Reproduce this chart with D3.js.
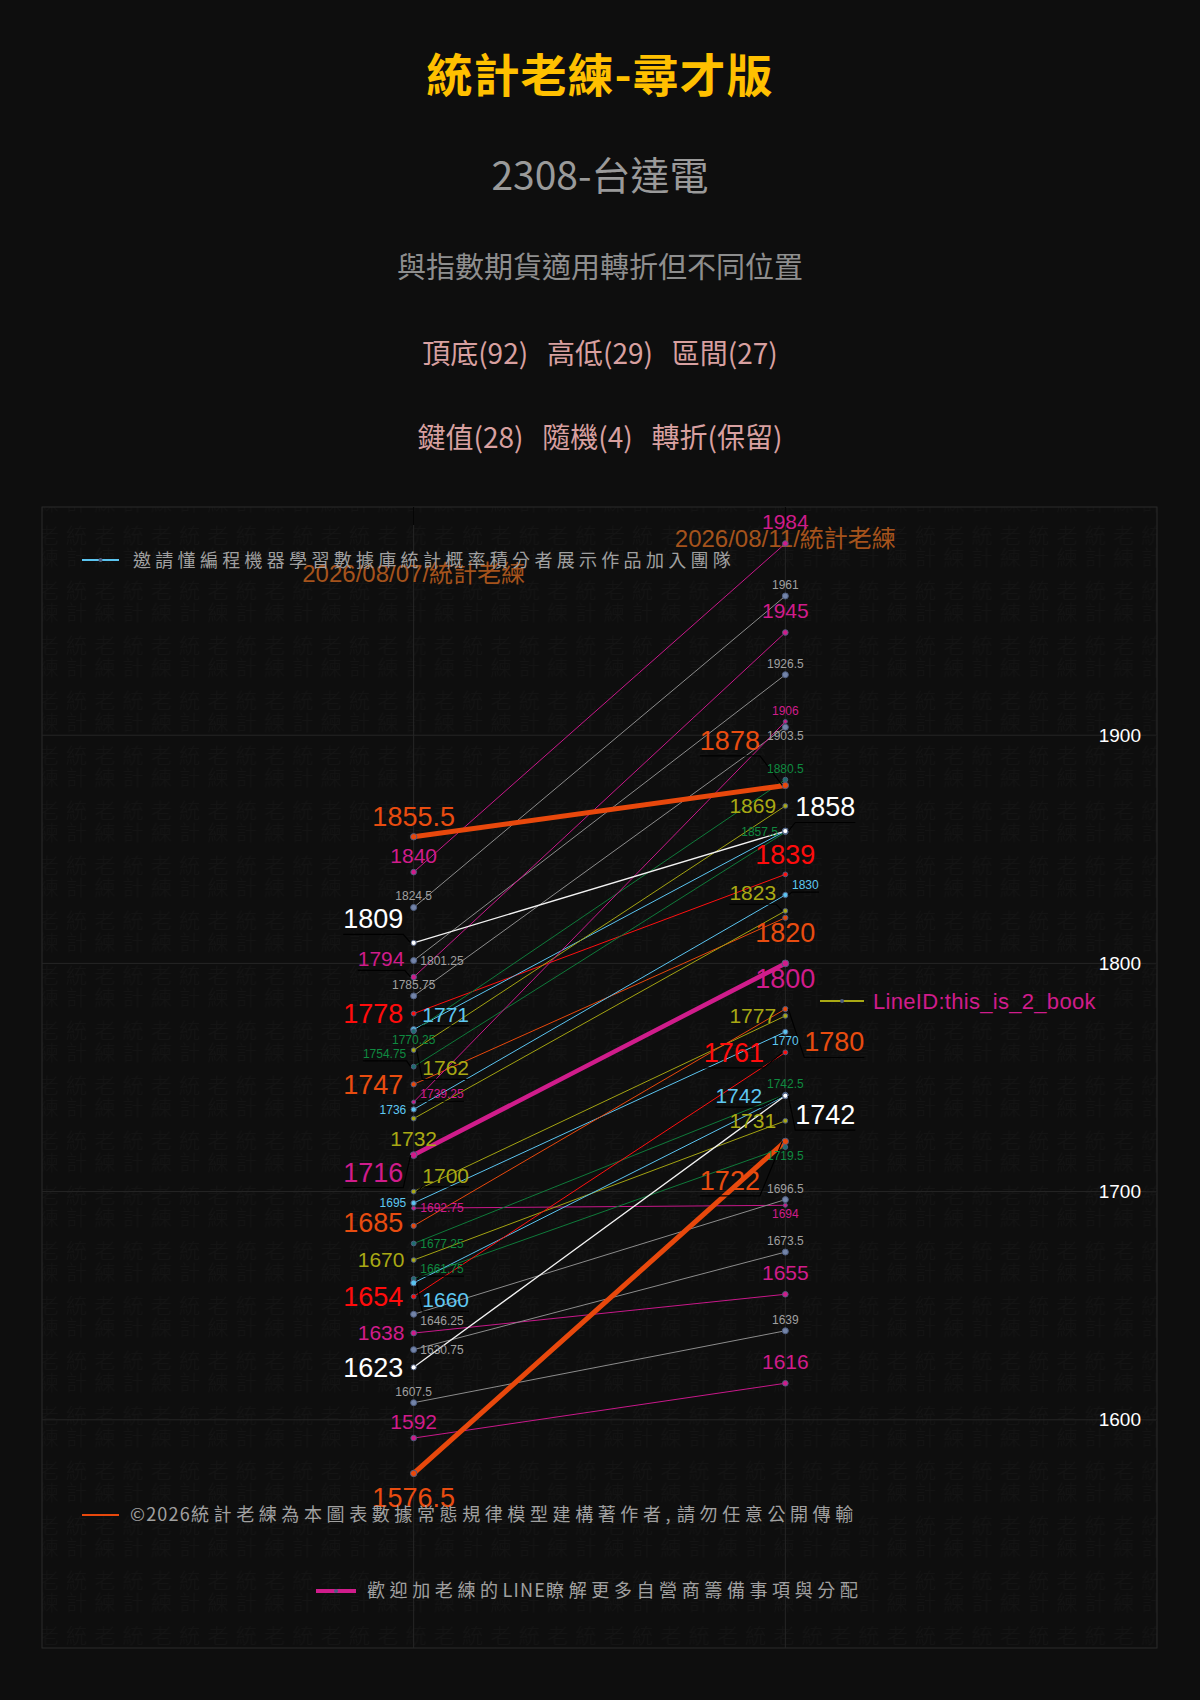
<!DOCTYPE html>
<html><head><meta charset="utf-8">
<script src="https://cdn.jsdelivr.net/npm/d3@7"></script>
<style>
html,body{margin:0;padding:0;background:#0e0e0e;}
svg{display:block;}
</style></head><body>
<svg id="chart" width="1200" height="1700"></svg>
<script>
// ---------------- DATA ----------------
const titleText = '統計老練-尋才版';
const subtitleLines = ['2308-台達電', '與指數期貨適用轉折但不同位置', '頂底(92)   高低(29)   區間(27)', '鍵值(28)   隨機(4)   轉折(保留)'];
const categories = ['2026/08/07', '2026/08/11'];
const categorySuffix = '/統計老練';
const startValues = [1855.5, 1840, 1824.5, 1809, 1801.25, 1794, 1785.75, 1778, 1771, 1770.25, 1762, 1754.75, 1747, 1739.25, 1736, 1732, 1716, 1700, 1695, 1692.75, 1685, 1677.25, 1670, 1661.75, 1660, 1654, 1646.25, 1638, 1630.75, 1623, 1607.5, 1592, 1576.5];
const endValues   = [1878, 1984, 1961, 1858, 1926.5, 1945, 1903.5, 1839, 1858, 1880.5, 1869, 1857.5, 1820, 1906, 1830, 1823, 1800, 1777, 1770, 1694, 1780, 1742.5, 1731, 1719.5, 1742, 1761, 1696.5, 1655, 1673.5, 1742, 1639, 1616, 1722];
const seriesGroup = ['orangeThick','magenta','gray','white','gray','magenta','gray','red','cyanBig','green','olive','green','orange','magentaSmall','cyanSmall','olive','magentaThick','olive','cyanSmall','magentaSmall','orange','green','olive','green','cyanBig','red','gray','magenta','gray','white','gray','magenta','orangeThick'];
const yTicks = [1600, 1700, 1800, 1900];
const yDomain = [1500, 2000];
const legendTexts = ['邀請懂編程機器學習數據庫統計概率積分者展示作品加入團隊', '©2026統計老練為本圖表數據常態規律模型建構著作者, 請勿任意公開傳輸', '歡迎加老練的LINE瞭解更多自營商籌備事項與分配', 'LineID:this_is_2_book'];
const watermarkChars = ['統', '老', '計', '練'];

// ---------------- STYLE / LAYOUT ----------------
const groupStyle = {
  orangeThick:  {line:'#e8480c', label:'#e84c10', width:5,   font:27, marker:'#e8480c', r:3.2},
  orange:       {line:'#e8480c', label:'#e84c10', width:1,   font:27, marker:'#e8480c', r:2.6},
  red:          {line:'#ff1010', label:'#ff0c0c', width:1,   font:27, marker:'#ff1010', r:2.4},
  white:        {line:'#f2f2f2', label:'#ffffff', width:1.3, font:27, marker:'#ffffff', r:2.6},
  magentaThick: {line:'#d01c8b', label:'#d01c8b', width:4.5, font:27, marker:'#d01c8b', r:3.4},
  magenta:      {line:'#c8188a', label:'#d01c8b', width:1,   font:21, marker:'#d01c8b', r:2.8},
  magentaSmall: {line:'#c8188a', label:'#d01c8b', width:1,   font:12, marker:'#d01c8b', r:2},
  olive:        {line:'#a3a312', label:'#a9a914', width:1,   font:21, marker:'#a9a914', r:2.4},
  cyanBig:      {line:'#5bc4f0', label:'#5ec8f2', width:1,   font:21, marker:'#5bc4f0', r:3},
  cyanSmall:    {line:'#5bc4f0', label:'#5ec8f2', width:1,   font:12, marker:'#5bc4f0', r:2.6},
  green:        {line:'#0f7a3a', label:'#0f8a40', width:1,   font:12, marker:'#1f6f70', r:2.4},
  gray:         {line:'#8c8c8c', label:'#a0a0a0', width:1,   font:12, marker:'#7384a8', r:3}
};
// label placement: t=top, b=bottom, l=left, r=right, then dx, dy shift (layout, not data)
const startLayout = [['t'],['t'],['t'],['l',0,-24],['r'],['l',0,-18],['t'],['l'],['r',0,-15],['b'],['r',0,18],['l',0,-13],['l'],['r',0,-8],['l'],['b',0,8],['l',0,17],['r',0,-16],['l'],['r'],['l',0,-3],['r'],['l'],['r',0,-10],['r',0,17],['l'],['r',0,7],['l'],['r'],['l'],['t'],['t'],['b',0,9]];
const endLayout = [['l',-15,-45],['t',0,-5],['t'],['r',0,-24],['t'],['t',0,-5],['b'],['t'],['none'],['t'],['l'],['l'],['b'],['t'],['r',0,-10],['l',0,-18],['b'],['l'],['b'],['b'],['r',9,33],['t'],['l'],['b'],['l',-14,0],['l',-11,0],['t'],['t',0,-5],['t'],['r',0,19],['t'],['t',0,-5],['l',-15,39]];

const W = 1200, H = 1700;
const margin = {top: 507, right: 43, bottom: 52, left: 42};
const plotL = margin.left, plotR = W - margin.right, plotT = margin.top, plotB = H - margin.bottom;
const CJK = '"Noto Sans CJK TC","Noto Sans CJK SC",sans-serif';
const NUM = '"Liberation Sans",Arial,"Noto Sans CJK TC",sans-serif';

const svg = d3.select('#chart');
svg.append('rect').attr('width', W).attr('height', H).attr('fill', '#0e0e0e');

// ---------------- TITLES ----------------
svg.append('text').attr('x', 600).attr('y', 92).attr('text-anchor','middle')
  .attr('font-family', CJK).attr('font-weight', 700).attr('font-size', 46).attr('letter-spacing', 1)
  .attr('fill', '#ffc000').text(titleText);
const subStyle = [
  {y:190, size:39, fill:'#9a9a9a'},
  {y:278, size:29, fill:'#8e8e8e'},
  {y:364, size:28, fill:'#d8a0a0'},
  {y:448, size:28, fill:'#d8a0a0'}
];
subtitleLines.forEach((t, i) => {
  svg.append('text').attr('x', 600).attr('y', subStyle[i].y).attr('text-anchor','middle')
    .attr('font-family', CJK).attr('font-size', subStyle[i].size).attr('fill', subStyle[i].fill)
    .style('white-space','pre').text(t);
});

// ---------------- SCALES ----------------
const x = d3.scalePoint().domain(categories).range([plotL, plotR]).padding(1);
const y = d3.scaleLinear().domain(yDomain).range([plotB, plotT]);

// watermark pattern (columns 統/計 and 老/練)
const defs = svg.append('defs');
const pw = 56.6, ph = 55;
const pat = defs.append('pattern').attr('id','wm').attr('patternUnits','userSpaceOnUse')
  .attr('width', pw).attr('height', ph).attr('x', 915).attr('y', 1185);
[[0, 0, 18], [1, pw / 2, 18], [2, 0, 40], [3, pw / 2, 40]].forEach(([ci, px, py]) => {
  pat.append('text').attr('x', px).attr('y', py).attr('font-family', CJK).attr('font-size', 21)
    .attr('font-weight', 300).attr('fill', '#141414').text(watermarkChars[ci]);
});

svg.append('rect').attr('x', plotL).attr('y', plotT).attr('width', plotR - plotL).attr('height', plotB - plotT)
  .attr('fill', 'url(#wm)').attr('stroke', '#2a2a2a').attr('stroke-width', 1);

// grid
svg.append('g').selectAll('line').data(yTicks).join('line')
  .attr('x1', plotL).attr('x2', plotR).attr('y1', d => y(d)).attr('y2', d => y(d))
  .attr('stroke', '#262626').attr('stroke-width', 1);
svg.append('g').selectAll('line').data(categories).join('line')
  .attr('x1', d => x(d)).attr('x2', d => x(d)).attr('y1', plotT).attr('y2', plotB)
  .attr('stroke', '#262626').attr('stroke-width', 1);
// top axis ticks
svg.append('g').selectAll('line').data(categories).join('line')
  .attr('x1', d => x(d)).attr('x2', d => x(d)).attr('y1', plotT).attr('y2', plotT + 18)
  .attr('stroke', '#000').attr('stroke-width', 1);

// right y axis
const yAxis = svg.append('g').attr('transform', `translate(${plotR},0)`)
  .call(d3.axisLeft(y).tickValues(yTicks).tickSize(11).tickPadding(5).tickFormat(d3.format('d')));
yAxis.select('.domain').remove();
yAxis.selectAll('.tick line').attr('stroke', '#1a1a1a');
yAxis.selectAll('.tick text').attr('fill', '#ffffff').attr('font-size', 19).attr('font-family', NUM);

// category (date) labels
const catDy = [75, 40];
svg.append('g').selectAll('text').data(categories).join('text')
  .attr('x', d => x(d)).attr('y', (d, i) => plotT + catDy[i]).attr('text-anchor', 'middle')
  .attr('font-family', NUM).attr('font-size', 24).attr('fill', '#a5531c')
  .text(d => d + categorySuffix);

// ---------------- SERIES ----------------
const series = startValues.map((v, i) => ({i, start: v, end: endValues[i], g: groupStyle[seriesGroup[i]]}));
const drawOrder = series.slice().sort((a, b) => a.g.width - b.g.width);
const lineGen = d3.line().x(d => x(d.c)).y(d => y(d.v));

const gLines = svg.append('g');
drawOrder.forEach(s => {
  gLines.append('path')
    .attr('d', lineGen([{c: categories[0], v: s.start}, {c: categories[1], v: s.end}]))
    .attr('fill', 'none').attr('stroke', s.g.line).attr('stroke-width', s.g.width)
    .attr('stroke-linecap', 'round');
});

const gMarks = svg.append('g');
drawOrder.forEach(s => {
  [[categories[0], s.start], [categories[1], s.end]].forEach(([c, v]) => {
    gMarks.append('circle').attr('cx', x(c)).attr('cy', y(v)).attr('r', s.g.r)
      .attr('fill', s.g.marker).attr('stroke', '#4e5d80').attr('stroke-width', 1);
  });
});

// labels
function labelPos(px, py, fs, lay) {
  const p = lay[0], dx = lay[1] || 0, dy = lay[2] || 0;
  let tx = px, ty = py, anchor = 'middle';
  if (p === 't') { ty = py - (4 + 0.25 * fs); }
  else if (p === 'b') { ty = py + 4 + 0.75 * fs; }
  else if (p === 'l') { tx = px - (5 + 0.2 * fs); ty = py + 0.35 * fs; anchor = 'end'; }
  else if (p === 'r') { tx = px + 4 + 0.22 * fs; ty = py + 0.35 * fs; anchor = 'start'; }
  return {x: tx + dx, y: ty + dy, anchor, shifted: Math.abs(dy) >= 8 || dx !== 0, side: p};
}
const gLeader = svg.append('g');
const gLabels = svg.append('g');
series.forEach(s => {
  [[categories[0], s.start, startLayout[s.i]], [categories[1], s.end, endLayout[s.i]]].forEach(([c, v, lay]) => {
    if (lay[0] === 'none') return;
    const px = x(c), py = y(v);
    const pos = labelPos(px, py, s.g.font, lay);
    const t = gLabels.append('text').attr('x', pos.x).attr('y', pos.y).attr('text-anchor', pos.anchor)
      .attr('font-family', NUM).attr('font-size', s.g.font).attr('fill', s.g.label).text(String(v));
    if (pos.shifted && (pos.side === 'l' || pos.side === 'r')) {
      const bb = t.node().getBBox();
      const by = bb.y + bb.height;
      const near = pos.side === 'l' ? bb.x + bb.width : bb.x;
      const far = pos.side === 'l' ? bb.x : bb.x + bb.width;
      gLeader.append('path').attr('d', `M${far},${by}L${near},${by}L${px + (pos.side === 'l' ? -3 : 3)},${py}`)
        .attr('fill', 'none').attr('stroke', '#000').attr('stroke-width', 1.2);
    }
  });
});

// ---------------- LEGENDS ----------------
const legendStyle = [
  {lx1: 82, lx2: 119, ly: 560, color: '#5bc4f0', lw: 2, tx: 133, ty: 567, fill: '#a0a0a0', size: 18, font: CJK, ls: 4.3, marker: true},
  {lx1: 82, lx2: 119, ly: 1515, color: '#e8480c', lw: 2, tx: 130, ty: 1521, fill: '#a0a0a0', size: 18, font: CJK, ls: 4.6, marker: false},
  {lx1: 316, lx2: 356, ly: 1591, color: '#d01c8b', lw: 4, tx: 367, ty: 1597, fill: '#a0a0a0', size: 18, font: CJK, ls: 4.6, marker: true},
  {lx1: 820, lx2: 864, ly: 1001, color: '#a9a914', lw: 2, tx: 873, ty: 1009, fill: '#d01c8b', size: 22, font: NUM, ls: 0.3, marker: true}
];
const gLeg = svg.append('g');
legendTexts.forEach((t, i) => {
  const st = legendStyle[i];
  gLeg.append('line').attr('x1', st.lx1).attr('x2', st.lx2).attr('y1', st.ly).attr('y2', st.ly)
    .attr('stroke', st.color).attr('stroke-width', st.lw);
  if (st.marker) {
    gLeg.append('circle').attr('cx', (st.lx1 + st.lx2) / 2).attr('cy', st.ly).attr('r', 2)
      .attr('fill', '#4e5d80');
  }
  const txt = gLeg.append('text').attr('x', st.tx).attr('y', st.ty).attr('font-family', st.font)
    .attr('font-size', st.size).attr('fill', st.fill).style('white-space', 'pre');
  // ASCII runs tight, CJK runs spaced
  const runs = t.match(/[\x00-\x7F©]+|[^\x00-\x7F©]+/g);
  runs.forEach(r => {
    const ascii = /^[\x00-\x7F©]+$/.test(r);
    txt.append('tspan').attr('letter-spacing', ascii ? Math.min(st.ls, 1.2) : st.ls).text(r);
  });
});
</script>
</body></html>
